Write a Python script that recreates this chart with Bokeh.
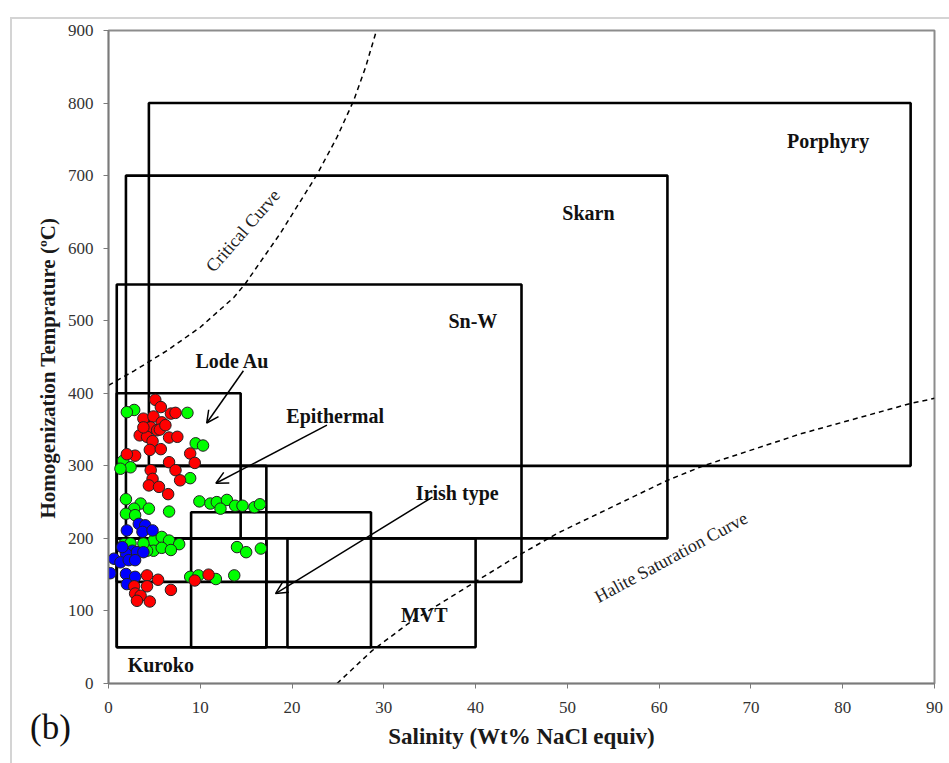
from bokeh.plotting import figure
from bokeh.models import ColumnDataSource, FixedTicker, Arrow, OpenHead, Title, Div
from bokeh.layouts import column
from bokeh.core.properties import value
from bokeh.embed import file_html
from bokeh.resources import INLINE

# ---- data ----
x_ticks = [0, 10, 20, 30, 40, 50, 60, 70, 80, 90]
y_ticks = [0, 100, 200, 300, 400, 500, 600, 700, 800, 900]

box_names = ["Porphyry", "Skarn", "Sn-W", "Lode Au", "Epithermal", "Kuroko", "Irish type", "MVT"]
box_left = [4.4, 1.9, 0.9, 0.9, 0.9, 0.9, 9.0, 19.5]
box_right = [87.4, 60.9, 45.0, 14.4, 17.2, 17.2, 28.6, 40.0]
box_bottom = [300, 200, 140, 200, 50, 50, 50, 50]
box_top = [800, 700, 550, 400, 300, 200, 236, 200]

label_text = ["Porphyry", "Skarn", "Sn-W", "Lode Au", "Epithermal", "Irish type", "MVT", "Kuroko"]
label_x = [78.4, 52.3, 39.7, 13.5, 24.7, 38.0, 34.4, 5.7]
label_y = [748, 648, 500, 445, 369, 262, 94, 25]

crit_x = [0, 2.8, 6.4, 10.0, 13.65, 14.9, 18.7, 22.7, 24.9, 26.7, 28.0, 29.2]
crit_y = [411, 431, 459, 491, 532, 551, 620, 701, 753, 803, 849, 900]

hal_x = [24.9, 28.7, 32.7, 40.2, 43.8, 48.9, 60.9, 64.8, 75.4, 87.4, 90]
hal_y = [0, 45, 83, 142, 170, 207, 280, 300, 344, 386, 393]

red_x = [5.1, 5.7, 6.8, 7.3, 3.8, 4.9, 5.8, 4.6, 5.3, 3.4, 4.2, 5.6, 6.6, 7.5, 4.8, 4.5, 5.7, 2.9, 2.0, 8.9,
         9.4, 4.6, 6.6, 7.3, 4.8, 7.8, 4.4, 5.5, 6.5, 3.8, 6.2, 4.2, 5.4, 6.8, 2.8, 2.9, 3.5, 3.1, 4.5, 10.9,
         9.4, 4.2]
red_y = [391, 381, 372, 373, 365, 368, 360, 353, 349, 342, 340, 350, 339, 340, 334, 322, 323, 314, 316, 317,
         304, 294, 305, 294, 282, 280, 273, 271, 261, 353, 356, 149, 143, 129, 134, 124, 121, 114, 113, 150,
         142, 134]

green_x = [2.8, 2.0, 8.6, 9.5, 10.3, 1.6, 2.4, 1.3, 8.9, 1.9, 3.5, 4.4, 2.8, 1.9, 2.9, 6.6, 9.9, 11.1, 11.8, 12.9,
           12.2, 13.8, 14.6, 15.9, 16.5, 1.7, 4.9, 5.8, 6.6, 7.7, 4.9, 5.8, 6.8, 4.2, 14.0, 15.0, 16.6, 8.9, 9.8, 11.7,
           13.7, 2.4, 3.8]
green_y = [377, 374, 373, 331, 328, 307, 298, 296, 283, 254, 248, 241, 241, 234, 232, 237, 251, 248, 250, 253,
           241, 245, 245, 243, 247, 192, 197, 202, 197, 192, 183, 187, 184, 183, 188, 181, 186, 147, 149, 144,
           149, 193, 193]

blue_x = [3.3, 4.0, 2.0, 3.7, 4.8, 2.6, 1.9, 3.1, 0.6, 1.3, 2.2, 2.9, 3.8, 0.2, 1.9, 2.9, 2.0, 1.5]
blue_y = [220, 218, 211, 209, 211, 183, 179, 181, 172, 167, 170, 170, 181, 152, 151, 147, 137, 188]

# arrows: start (x, y) -> end (x, y)
arrow_x_start = [14.7, 23.8, 35.3]
arrow_y_start = [431, 356, 257]
arrow_x_end = [10.7, 11.7, 18.2]
arrow_y_end = [359, 276, 124]

SERIF = "Liberation Serif"

p = figure(width=949, height=763, frame_width=826, frame_height=653,
           x_range=(0, 90), y_range=(0, 900),
           output_backend="svg", toolbar_location=None,
           min_border_left=108, min_border_right=15, min_border_top=30, min_border_bottom=80)

p.grid.grid_line_color = None
p.outline_line_color = "#8c8c8c"
p.outline_line_width = 2
p.background_fill_color = "white"
p.border_fill_color = "white"

p.xaxis.ticker = FixedTicker(ticks=x_ticks)
p.yaxis.ticker = FixedTicker(ticks=y_ticks)
for ax in (p.xaxis[0], p.yaxis[0]):
    ax.axis_line_color = "#7a7a7a"
    ax.axis_line_width = 1.5
    ax.major_tick_line_color = "#7a7a7a"
    ax.major_tick_in = 0
    ax.major_tick_out = 5
    ax.minor_tick_line_color = None
    ax.major_label_text_font = SERIF
    ax.major_label_text_font_size = "17px"
    ax.major_label_text_color = "#333333"
    ax.axis_label_text_font = SERIF
    ax.axis_label_text_font_style = "bold"
    ax.axis_label_text_font_size = "23px"
    ax.axis_label_text_color = "#1a1a1a"

p.xaxis.axis_label = "Salinity (Wt% NaCl equiv)"
p.xaxis.major_label_standoff = 13
p.xaxis.axis_label_standoff = 8
p.yaxis.major_label_standoff = 10

# y-axis title as a side title, anchored from the bottom of the frame
p.add_layout(Title(text="Homogenization Temprature (ºC)", align="left", offset=165,
                   text_font=SERIF, text_font_style="bold", text_font_size="21px",
                   text_color="#1a1a1a", standoff=10), "left")

# boxes
box_src = ColumnDataSource(dict(left=box_left, right=box_right, top=box_top, bottom=box_bottom, name=box_names))
p.quad(left="left", right="right", top="top", bottom="bottom", source=box_src,
       fill_alpha=0, line_color="black", line_width=2.6)

# curves
p.line(crit_x, crit_y, line_color="black", line_width=1.5, line_dash="5 4")
p.line(hal_x, hal_y, line_color="black", line_width=1.5, line_dash="5 4")

# data points
common = dict(size=11.5, line_color="#222222", line_width=1)
p.scatter(green_x, green_y, fill_color="#00ff00", **common)
p.scatter(blue_x, blue_y, fill_color="#0000ff", **common)
p.scatter(red_x, red_y, fill_color="#ff0000", **common)

# box labels
lab_src = ColumnDataSource(dict(x=label_x, y=label_y, text=label_text))
p.text(x="x", y="y", text="text", source=lab_src, text_font=value(SERIF), text_font_style="bold",
       text_font_size="20px", text_align="center", text_baseline="middle", text_color="#111111")

# curve labels
p.text(x=[14.65], y=[624], text=["Critical Curve"], angle=49, angle_units="deg",
       text_font=value(SERIF), text_font_size="18px", text_align="center", text_baseline="middle",
       text_color="#222222")
p.text(x=[61.3], y=[174], text=["Halite Saturation Curve"], angle=28.4, angle_units="deg",
       text_font=value(SERIF), text_font_size="18px", text_align="center", text_baseline="middle",
       text_color="#222222")

# arrows
for xs, ys, xe, ye in zip(arrow_x_start, arrow_y_start, arrow_x_end, arrow_y_end):
    p.add_layout(Arrow(end=OpenHead(size=12, line_width=1.5, line_color="black"),
                       x_start=xs, y_start=ys, x_end=xe, y_end=ye,
                       line_color="black", line_width=1.5))

# panel tag "(b)" and light outer frame, placed over the canvas corner
tag = Div(text='<span style="font-family:\'Liberation Serif\';font-size:35px;line-height:1;color:#111">(b)</span>',
          styles={"position": "absolute", "left": "25px", "top": "705px"})
frame_box = Div(text="", styles={"position": "absolute", "left": "5px", "top": "12px",
                                 "width": "942px", "height": "749px",
                                 "border-top": "2px solid #d4d4d4", "border-left": "2px solid #d4d4d4",
                                 "pointer-events": "none"})

layout = column(p, tag, frame_box)
open("out.html", "w").write(file_html(layout, INLINE))
